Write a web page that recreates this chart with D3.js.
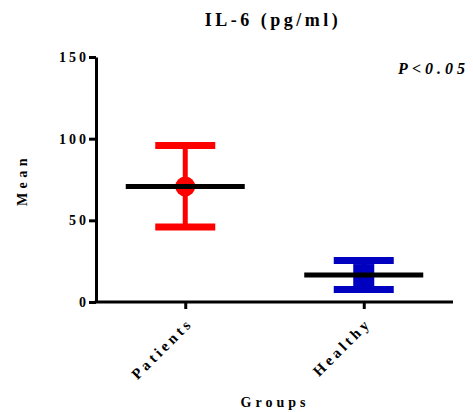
<!DOCTYPE html>
<html><head><meta charset="utf-8">
<script src="https://cdn.jsdelivr.net/npm/d3@7"></script>
<style>body{margin:0;background:#fff}svg{display:block}</style>
</head><body>
<svg id="c" width="473" height="412"></svg>
<script>
const groups = ["Patients", "Healthy"];
const means = [70.7, 16.5];
const upper = [95.8, 25.4];
const lower = [45.9, 7.7];
const colors = ["#ff0000", "#0000c0"];
const markers = ["circle", "square"];
const yTicks = [0, 50, 100, 150];
const title = "IL-6 (pg/ml)";
const yTitle = "Mean";
const xTitle = "Groups";
const note = "P<0.05";

const svg = d3.select("#c");
const font = "'Liberation Serif', 'Times New Roman', serif";
const x = d3.scalePoint().domain(groups).range([96, 453]).padding(0.5);
const y = d3.scaleLinear().domain([0, 150]).range([302, 57]);

// axes
const yAxis = svg.append("g").attr("transform", "translate(96,0)")
  .call(d3.axisLeft(y).tickValues(yTicks).tickSize(7).tickSizeOuter(0));
const xAxis = svg.append("g").attr("transform", "translate(0,302)")
  .call(d3.axisBottom(x).tickSize(7).tickSizeOuter(0));
[yAxis, xAxis].forEach(a => {
  a.select(".domain").attr("stroke", "#000").attr("stroke-width", 3);
  a.selectAll(".tick line").attr("stroke", "#000").attr("stroke-width", 3);
  a.selectAll("text").attr("font-family", font).attr("font-weight", "bold")
    .attr("font-size", 14).attr("fill", "#000").attr("letter-spacing", "3px");
});
yAxis.selectAll(".tick text").attr("x", -7).attr("dy", "0.32em");
xAxis.selectAll(".tick text")
  .attr("font-size", 15).attr("letter-spacing", "3.5px")
  .attr("text-anchor", "end").attr("dy", 0).attr("y", 0)
  .attr("transform", "translate(8,22) rotate(-45)");
xAxis.select(".domain").attr("d", "M94.5,0H453");

// error bars
const capW = 60, medW = 119;
groups.forEach((g, i) => {
  const cx = x(g), c = colors[i];
  const gr = svg.append("g");
  gr.append("line").attr("x1", cx).attr("x2", cx).attr("y1", y(upper[i])).attr("y2", y(lower[i]))
    .attr("stroke", c).attr("stroke-width", 5);
  [upper[i], lower[i]].forEach(v => gr.append("line")
    .attr("x1", cx - capW / 2).attr("x2", cx + capW / 2).attr("y1", y(v)).attr("y2", y(v))
    .attr("stroke", c).attr("stroke-width", 7));
  if (markers[i] === "circle") {
    gr.append("circle").attr("cx", cx).attr("cy", y(means[i])).attr("r", 10).attr("fill", c);
  } else {
    gr.append("rect").attr("x", cx - 10.5).attr("y", y(means[i]) - 11).attr("width", 21).attr("height", 22).attr("fill", c);
  }
  gr.append("line").attr("x1", cx - medW / 2).attr("x2", cx + medW / 2).attr("y1", y(means[i])).attr("y2", y(means[i]))
    .attr("stroke", "#000").attr("stroke-width", 5);
});

// titles
svg.append("text").attr("x", 273).attr("y", 26).attr("text-anchor", "middle")
  .attr("font-family", font).attr("font-weight", "bold").attr("font-size", 18)
  .attr("letter-spacing", "3.5px").text(title);
svg.append("text").attr("transform", "translate(27,180) rotate(-90)").attr("text-anchor", "middle")
  .attr("font-family", font).attr("font-weight", "bold").attr("font-size", 14)
  .attr("letter-spacing", "4.5px").text(yTitle);
svg.append("text").attr("x", 275).attr("y", 407).attr("text-anchor", "middle")
  .attr("font-family", font).attr("font-weight", "bold").attr("font-size", 14)
  .attr("letter-spacing", "4px").text(xTitle);
svg.append("text").attr("x", 469).attr("y", 74).attr("text-anchor", "end")
  .attr("font-family", font).attr("font-weight", "bold").attr("font-style", "italic").attr("font-size", 16)
  .attr("letter-spacing", "4px").text(note);
</script>
</body></html>
